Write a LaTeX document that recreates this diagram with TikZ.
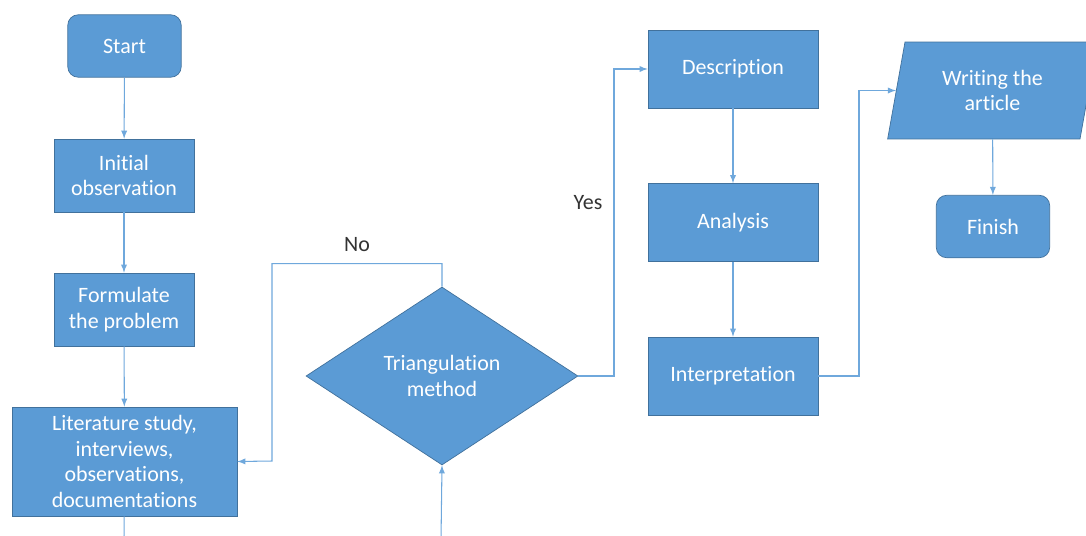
\documentclass[tikz,border=0pt]{standalone}
\usepackage{fontspec}
\setmainfont{Carlito}[Ligatures=NoCommon]
\usepackage{xcolor}
\usetikzlibrary{shapes.geometric, arrows, positioning}
\definecolor{boxblue}{HTML}{5B9BD5}
\definecolor{boxedge}{HTML}{41719C}
\definecolor{lineblue}{HTML}{6FA8DC}

\begin{document}
\begin{tikzpicture}[x=0.02cm, y=-0.02cm,
    block/.style={rectangle, draw=boxedge, fill=boxblue, text=white, align=center,
        minimum width=2.8cm, minimum height=1.46cm, inner sep=1pt,
        font=\fontsize{12.5}{14.7}\selectfont},
    term/.style={block, rounded corners=6pt, minimum width=2.27cm, minimum height=1.25cm},
    decision/.style={block, diamond, aspect=1.53, minimum width=5.44cm, minimum height=3.56cm},
    io/.style={block, trapezium, trapezium left angle=77, trapezium right angle=103,
        trapezium stretches=true, minimum width=4.22cm, minimum height=1.94cm},
    arrow/.style={draw=lineblue, line width=0.6pt, ->, >=latex},
    link/.style={draw=lineblue, line width=0.6pt},
    answer/.style={font=\fontsize{12.5}{14}\selectfont, text=black!80}]

    \useasboundingbox (0,0) rectangle (1086,535);
    \clip (0,0) rectangle (1086,535);

    % Left column
    \node [term] (start) at (124.5,46) {Start};
    \node [block] (observe) at (124,175.5) {Initial\\observation};
    \node [block] (problem) at (124,309.5) {Formulate\\the problem};
    \node [block, minimum width=4.5cm, minimum height=2.18cm] (study) at (124.5,461.5)
        {Literature study,\\interviews,\\observations,\\documentations};

    % Decision
    \node [decision] (method) at (442,376) {Triangulation\\method};

    % Middle column
    \node [block, minimum width=3.4cm, minimum height=1.56cm] (describe) at (733,69) {Description};
    \node [block, minimum width=3.4cm, minimum height=1.56cm] (analyse) at (733,222.5) {Analysis};
    \node [block, minimum width=3.4cm, minimum height=1.56cm] (interpret) at (733,376) {Interpretation};

    % Right column
    \node [io] (write) at (992.5,90.5) {Writing the\\article};
    \node [term] (finish) at (993,226.5) {Finish};

    % Loose ends at the bottom edge
    \coordinate (studyout) at (124,540);
    \coordinate (methodin) at (441,540);

    % Arrows
    \draw [arrow] (start) -- (observe);
    \draw [arrow] (observe) -- (problem);
    \draw [arrow] (problem) -- (study);
    \draw [link] (study) -- (studyout);
    \draw [arrow] (methodin) -- (method.south);
    \draw [arrow] (method.north) -- ++(0,-23) -| (272,461) -- (study.east);
    \draw [arrow] (method.east) -| (614,200) |- (describe.west);
    \draw [arrow] (describe) -- (analyse);
    \draw [arrow] (analyse) -- (interpret);
    \draw [arrow] (interpret.east) -| (859,200) |- (write.west);
    \draw [arrow] (write) -- (finish);

    % Labels
    \node [answer] (no) at (357,245) {No};
    \node [answer] (yes) at (588,203) {Yes};
\end{tikzpicture}
\end{document}
